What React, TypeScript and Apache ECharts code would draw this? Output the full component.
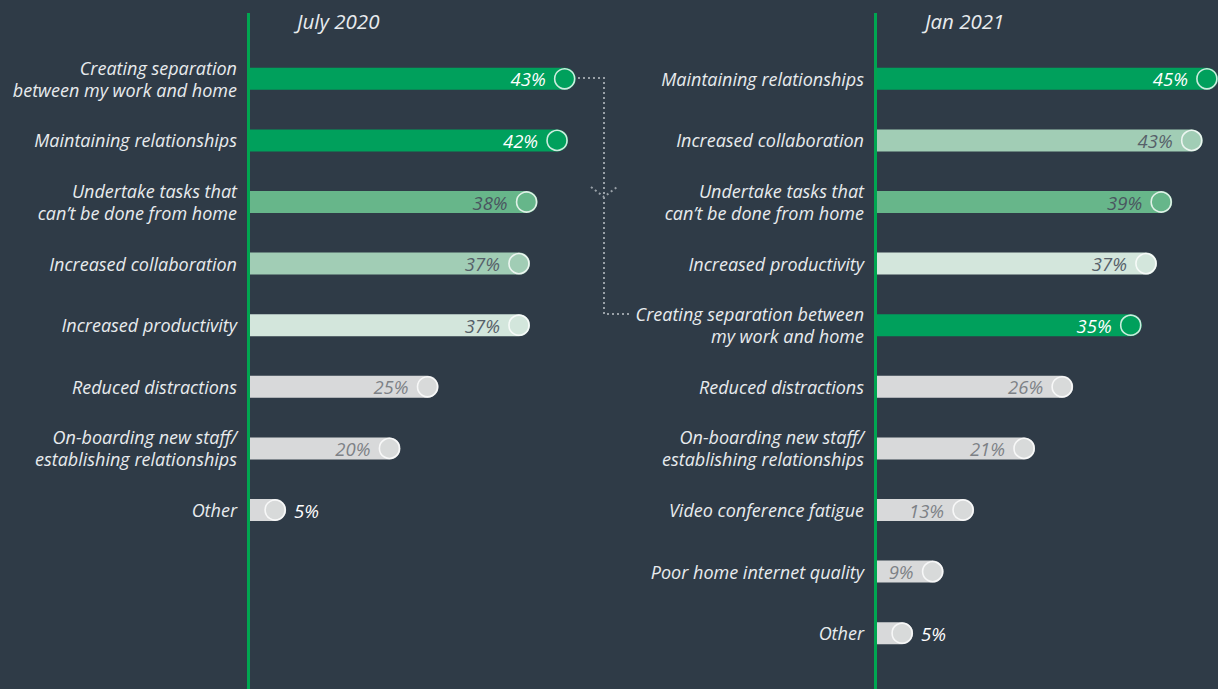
import React, { useEffect, useRef } from "react";
import * as echarts from "echarts";

const leftTitle = "July 2020";
const rightTitle = "Jan 2021";

const leftCategories = [
  "Creating separation\nbetween my work and home",
  "Maintaining relationships",
  "Undertake tasks that\ncan’t be done from home",
  "Increased collaboration",
  "Increased productivity",
  "Reduced distractions",
  "On-boarding new staff/\nestablishing relationships",
  "Other",
];
const leftValues = [43, 42, 38, 37, 37, 25, 20, 5];
const leftKeys = ["sep", "rel", "tasks", "collab", "prod", "grey", "grey", "grey"];

const rightCategories = [
  "Maintaining relationships",
  "Increased collaboration",
  "Undertake tasks that\ncan’t be done from home",
  "Increased productivity",
  "Creating separation between\nmy work and home",
  "Reduced distractions",
  "On-boarding new staff/\nestablishing relationships",
  "Video conference fatigue",
  "Poor home internet quality",
  "Other",
];
const rightValues = [45, 43, 39, 37, 35, 26, 21, 13, 9, 5];
const rightKeys = ["rel", "collab", "tasks", "prod", "sep", "grey", "grey", "grey", "grey", "grey"];

const palette: Record<string, { fill: string; text: string }> = {
  sep: { fill: "#00a05c", text: "#ffffff" },
  rel: { fill: "#00a05c", text: "#ffffff" },
  tasks: { fill: "#67b68a", text: "#4a5560" },
  collab: { fill: "#a1cdb5", text: "#566069" },
  prod: { fill: "#d3e6dc", text: "#566069" },
  grey: { fill: "#d8d9da", text: "#7d8186" },
};

const BG = "#2f3b47";
const FONT = "'Open Sans', 'Noto Sans', sans-serif";
const ROW = 61.6;
const TOP = 48;
const PX_PER_PCT = 7.62;

function buildBars(values: number[], keys: string[]) {
  return values.map((v, i) => {
    const p = palette[keys[i]];
    const outside = v < 8;
    return {
      value: v,
      itemStyle: { color: p.fill, borderRadius: [0, 11, 11, 0] },
      label: outside
        ? { position: "right", distance: 8, color: "#ffffff" }
        : { position: "insideRight", distance: 30, color: p.text },
    };
  });
}

function buildDots(values: number[], keys: string[]) {
  return values.map((v, i) => ({
    value: v,
    itemStyle: { color: palette[keys[i]].fill, borderColor: "#ffffff", borderWidth: 1.6 },
  }));
}

export default function App() {
  const ref = useRef<HTMLDivElement>(null);
  useEffect(() => {
    document.body.style.margin = "0";
    document.body.style.background = BG;
    if (!ref.current) return;
    const chart = echarts.init(ref.current, undefined, { renderer: "svg" });
    const yAxisBase = {
      type: "category",
      inverse: true,
      axisLine: { show: false },
      axisTick: { show: false },
      splitLine: { show: false },
      axisLabel: {
        color: "#e8ebee",
        fontSize: 18,
        fontStyle: "italic",
        fontFamily: FONT,
        lineHeight: 22,
        margin: 11,
        align: "right",
      },
    };
    const barLabel = {
      show: true,
      formatter: "{c}%",
      fontSize: 18.5,
      fontStyle: "italic",
      fontFamily: FONT,
    };
    const barBase = {
      type: "bar",
      barWidth: 22,
      label: barLabel,
      z: 2,
    };
    const dotBase = {
      type: "scatter",
      symbol: "circle",
      symbolSize: 20,
      symbolOffset: [-11, 0],
      z: 3,
      silent: true,
    };
    const titleStyle = {
      color: "#e8ebee",
      fontSize: 20.5,
      fontStyle: "italic",
      fontWeight: "normal",
      fontFamily: FONT,
    };
    chart.setOption({
      animation: false,
      backgroundColor: BG,
      title: [
        { text: leftTitle, left: 292, top: 6, textStyle: titleStyle },
        { text: rightTitle, left: 920, top: 6, textStyle: titleStyle },
      ],
      grid: [
        { left: 248, top: TOP, width: 50 * PX_PER_PCT, height: ROW * leftCategories.length },
        { left: 875, top: TOP, width: 45 * PX_PER_PCT, height: ROW * rightCategories.length },
      ],
      xAxis: [
        { type: "value", min: 0, max: 50, show: false, gridIndex: 0 },
        { type: "value", min: 0, max: 45, show: false, gridIndex: 1 },
      ],
      yAxis: [
        { ...yAxisBase, gridIndex: 0, data: leftCategories },
        { ...yAxisBase, gridIndex: 1, data: rightCategories },
      ],
      series: [
        { ...barBase, xAxisIndex: 0, yAxisIndex: 0, data: buildBars(leftValues, leftKeys) },
        { ...dotBase, xAxisIndex: 0, yAxisIndex: 0, data: buildDots(leftValues, leftKeys) },
        { ...barBase, xAxisIndex: 1, yAxisIndex: 1, data: buildBars(rightValues, rightKeys) },
        { ...dotBase, xAxisIndex: 1, yAxisIndex: 1, data: buildDots(rightValues, rightKeys) },
      ],
      graphic: [
        {
          type: "line",
          shape: { x1: 248.5, y1: 13, x2: 248.5, y2: 689 },
          style: { stroke: "#00a651", lineWidth: 3 },
          z: 10,
        },
        {
          type: "line",
          shape: { x1: 875.5, y1: 13, x2: 875.5, y2: 689 },
          style: { stroke: "#00a651", lineWidth: 3 },
          z: 10,
        },
        {
          type: "polyline",
          shape: { points: [[578, 78], [604, 78], [604, 314], [629, 314]] },
          style: { stroke: "#9aa1a8", lineWidth: 2, lineDash: [2, 3], fill: null },
          z: 10,
        },
        {
          type: "polyline",
          shape: { points: [[591, 187], [604, 197], [617, 187]] },
          style: { stroke: "#9aa1a8", lineWidth: 2, lineDash: [2, 3], fill: null },
          z: 10,
        },
      ],
    });
    return () => chart.dispose();
  }, []);
  return <div ref={ref} style={{ width: 1218, height: 689 }} />;
}
